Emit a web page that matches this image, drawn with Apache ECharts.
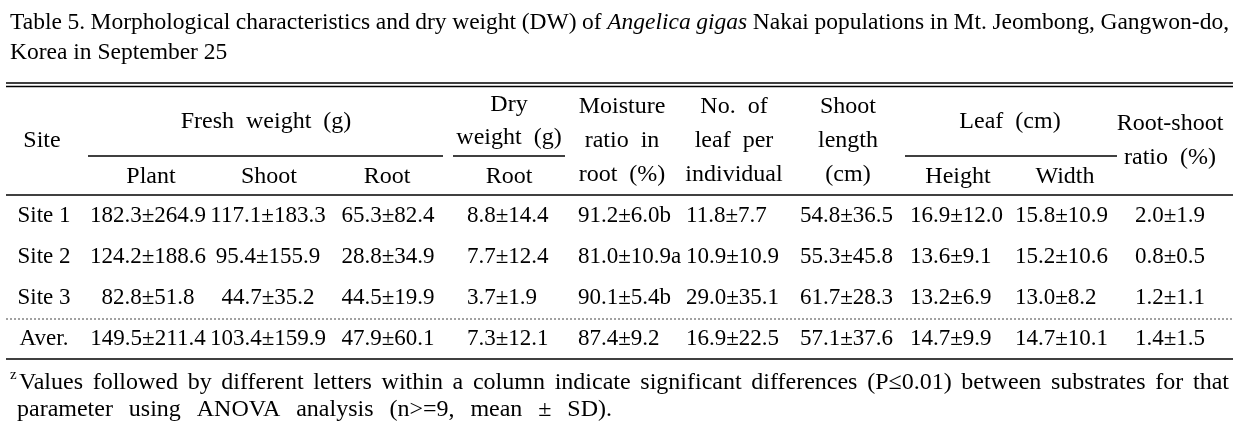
<!DOCTYPE html>
<html><head><meta charset="utf-8">
<script src="https://cdn.jsdelivr.net/npm/echarts@6/dist/echarts.min.js"></script>
<style>html,body{margin:0;padding:0;background:#fff}#c{width:1244px;height:432px}</style>
</head><body><div id="c"></div>
<script>
// ---------- data ----------
const titleLine1 = 'Table 5. Morphological characteristics and dry weight (DW) of Angelica gigas Nakai populations in Mt. Jeombong, Gangwon-do,';
const titleItalic = ['Angelica', 'gigas'];
const titleLine2 = 'Korea in September 25';
const groupHeaders = ['Fresh  weight  (g)', 'Leaf  (cm)'];
const dryHeader = ['Dry', 'weight  (g)'];
const siteHeader = 'Site';
const subHeaders = ['Plant', 'Shoot', 'Root', 'Root'];
const moistureHeader = ['Moisture', 'ratio  in', 'root  (%)'];
const leafNoHeader = ['No.  of', 'leaf  per', 'individual'];
const shootLenHeader = ['Shoot', 'length', '(cm)'];
const leafSubHeaders = ['Height', 'Width'];
const rootShootHeader = ['Root-shoot', 'ratio  (%)'];

const sites = ['Site 1', 'Site 2', 'Site 3', 'Aver.'];
const freshPlant = ['182.3±264.9', '124.2±188.6', '82.8±51.8', '149.5±211.4'];
const freshShoot = ['117.1±183.3', '95.4±155.9', '44.7±35.2', '103.4±159.9'];
const freshRoot = ['65.3±82.4', '28.8±34.9', '44.5±19.9', '47.9±60.1'];
const dryRoot = ['8.8±14.4', '7.7±12.4', '3.7±1.9', '7.3±12.1'];
const moistureRatio = ['91.2±6.0b', '81.0±10.9a', '90.1±5.4b', '87.4±9.2'];
const leafNumber = ['11.8±7.7', '10.9±10.9', '29.0±35.1', '16.9±22.5'];
const shootLength = ['54.8±36.5', '55.3±45.8', '61.7±28.3', '57.1±37.6'];
const leafHeight = ['16.9±12.0', '13.6±9.1', '13.2±6.9', '14.7±9.9'];
const leafWidth = ['15.8±10.9', '15.2±10.6', '13.0±8.2', '14.7±10.1'];
const rootShootRatio = ['2.0±1.9', '0.8±0.5', '1.2±1.1', '1.4±1.5'];

const footSup = 'z';
const footLine1 = 'Values followed by different letters within a column indicate significant differences (P≤0.01) between substrates for that';
const footLine2 = 'parameter using ANOVA analysis (n>=9, mean ± SD).';

// ---------- layout ----------
const FAM = '"Liberation Serif", "DejaVu Serif", serif';
const HEAD = 24;
const BODY = 23;
const TITLE = 23.5;
const FOOT = 24;
const INK = '#000';
const els = [];
const mctx = document.createElement('canvas').getContext('2d');
function fnt(size, italic) { return (italic ? 'italic ' : '') + size + 'px ' + FAM; }
function txt(s, x, y, size, align, italic) {
  els.push({ type: 'text', silent: true, style: { text: s, x: x, y: y, font: fnt(size, italic), fill: INK,
    textAlign: align || 'center', textVerticalAlign: 'middle', align: align || 'center', verticalAlign: 'middle' } });
}
function line(x1, y, x2, w, dash) {
  els.push({ type: 'line', silent: true, shape: { x1: x1, y1: y, x2: x2, y2: y },
    style: { stroke: dash ? '#444' : '#000', lineWidth: w || 1.4, lineDash: dash || null } });
}
function justify(s, x0, x1, y, size, italics) {
  const words = s.split(' ');
  const ws = words.map(w => { mctx.font = fnt(size, italics && italics.includes(w)); return mctx.measureText(w).width; });
  const total = ws.reduce((a, b) => a + b, 0);
  const gap = (x1 - x0 - total) / (words.length - 1);
  let x = x0;
  words.forEach((w, i) => { txt(w, x, y, size, 'left', italics && italics.includes(w)); x += ws[i] + gap; });
}

// title
justify(titleLine1, 10, 1229, 23, TITLE, titleItalic);
txt(titleLine2, 10, 53, TITLE, 'left');

// rules
line(6, 83, 1233, 1.3);
line(6, 86.5, 1233, 1.3);
line(88, 156, 443, 1.3);
line(453, 156, 565, 1.3);
line(905, 156, 1117, 1.3);
line(6, 195, 1233, 1.4);
line(6, 319, 1233, 1, [2, 2]);
line(6, 359, 1233, 1.4);

// headers
const hMid = 141, hStep = 34;
txt(siteHeader, 42, hMid, HEAD);
txt(groupHeaders[0], 266, 122, HEAD);
txt(dryHeader[0], 509, 105, HEAD);
txt(dryHeader[1], 509, 138, HEAD);
const subX = [151, 269, 387, 509];
subHeaders.forEach((h, i) => txt(h, subX[i], 177, HEAD));
moistureHeader.forEach((h, i) => txt(h, 622, hMid + (i - 1) * hStep, HEAD));
leafNoHeader.forEach((h, i) => txt(h, 734, hMid + (i - 1) * hStep, HEAD));
shootLenHeader.forEach((h, i) => txt(h, 848, hMid + (i - 1) * hStep, HEAD));
txt(groupHeaders[1], 1010, 122, HEAD);
txt(leafSubHeaders[0], 958, 177, HEAD);
txt(leafSubHeaders[1], 1065, 177, HEAD);
txt(rootShootHeader[0], 1170, 124, HEAD);
txt(rootShootHeader[1], 1170, 158, HEAD);

// body rows
const rowY = [216, 257, 298, 339];
const cols = [
  { v: sites, x: 44, a: 'center' },
  { v: freshPlant, x: 148, a: 'center' },
  { v: freshShoot, x: 268, a: 'center' },
  { v: freshRoot, x: 388, a: 'center' },
  { v: dryRoot, x: 467, a: 'left' },
  { v: moistureRatio, x: 578, a: 'left' },
  { v: leafNumber, x: 686, a: 'left' },
  { v: shootLength, x: 800, a: 'left' },
  { v: leafHeight, x: 910, a: 'left' },
  { v: leafWidth, x: 1015, a: 'left' },
  { v: rootShootRatio, x: 1135, a: 'left' }
];
cols.forEach(c => c.v.forEach((s, r) => txt(s, c.x, rowY[r], BODY, c.a)));

// footnote
txt(footSup, 10, 375, 15, 'left');
justify(footLine1, 19, 1229, 383, FOOT);
justify(footLine2, 17, 612, 410, FOOT);

const chart = echarts.init(document.getElementById('c'), null, { renderer: 'canvas', width: 1244, height: 432 });
chart.setOption({ backgroundColor: '#fff', animation: false, graphic: { elements: els } });
</script></body></html>
